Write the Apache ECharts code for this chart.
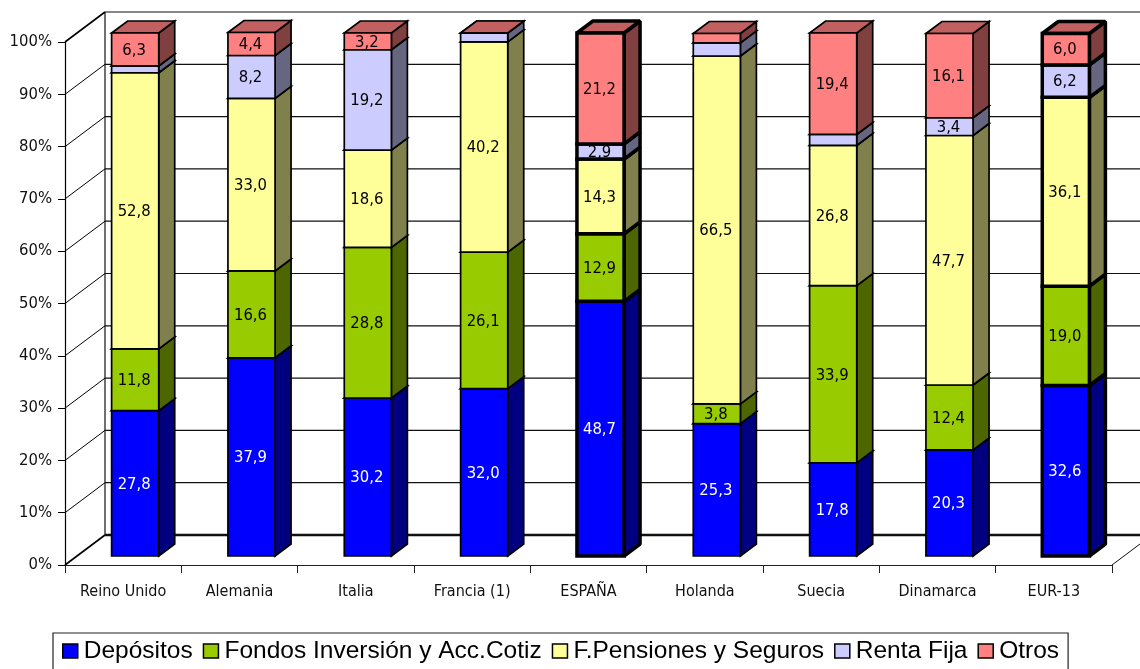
<!DOCTYPE html>
<html>
<head>
<meta charset="utf-8">
<title>Reparto del ahorro</title>
<script src="https://cdn.jsdelivr.net/npm/echarts@6/dist/echarts.min.js"></script>
<style>
html, body { margin: 0; padding: 0; background: #fff; overflow: hidden; }
#chart { width: 1140px; height: 669px; }
</style>
</head>
<body>
<div id="chart"></div>
<script>
var categories = ["Reino Unido", "Alemania", "Italia", "Francia (1)", "ESPAÑA", "Holanda", "Suecia", "Dinamarca", "EUR-13"];
var depositos = [27.8, 37.9, 30.2, 32.0, 48.7, 25.3, 17.8, 20.3, 32.6];
var fondos = [11.8, 16.6, 28.8, 26.1, 12.9, 3.8, 33.9, 12.4, 19.0];
var pensiones = [52.8, 33.0, 18.6, 40.2, 14.3, 66.5, 26.8, 47.7, 36.1];
var rentaFija = [1.3, 8.2, 19.2, 1.7, 2.9, 2.5, 2.1, 3.4, 6.2];
var otros = [6.3, 4.4, 3.2, 0, 21.2, 1.8, 19.4, 16.1, 6.0];
var seriesNames = ["Depósitos", "Fondos Inversión y Acc.Cotiz", "F.Pensiones y Seguros", "Renta Fija", "Otros"];
var yTicks = [0, 10, 20, 30, 40, 50, 60, 70, 80, 90, 100];
// segments without a printed value: serie index, category index
var noLabel = ["3-0", "3-3", "4-3", "3-5", "4-5", "3-6"];
var highlighted = ["ESPAÑA", "EUR-13"];

var colors = ["#0000ff", "#99cc00", "#ffff99", "#ccccff", "#ff8080"];
var sideColors = ["#000080", "#4d6600", "#80804d", "#666680", "#804040"];
var topColors = ["#0000c0", "#739900", "#c0c073", "#9999c0", "#c06060"];
var labelColors = ["#fff", "#000", "#000", "#000", "#000"];
var labelFont = "'DejaVu Sans Condensed', 'DejaVu Sans', sans-serif";

var WALL_DX = 40, WALL_DY = -30;    // depth of the floor
var BAR_DX = 16, BAR_DY = -12;      // depth of a bar
var BAR_OFF_X = 12, BAR_OFF_Y = -9; // bar front face sits inside the floor

function renderWall(params, api) {
    var cs = params.coordSys;
    var y = api.coord([categories[0], api.value(0)])[1];
    var left = cs.x, right = cs.x + cs.width;
    var isFloor = api.value(0) == 0;
    var isTop = api.value(0) == 100;
    var children = [{
        type: "line",
        shape: { x1: left, y1: y, x2: left + WALL_DX, y2: y + WALL_DY },
        style: { stroke: "#000", lineWidth: isFloor || isTop ? 1.6 : 1 }
    }, {
        type: "line",
        shape: { x1: left + WALL_DX, y1: y + WALL_DY, x2: right + WALL_DX, y2: y + WALL_DY },
        style: { stroke: "#111", lineWidth: isFloor ? 2.5 : 1.2 }
    }];
    if (isFloor) {
        children.push({
            type: "line",
            shape: { x1: left + WALL_DX, y1: y + WALL_DY, x2: left + WALL_DX, y2: cs.y + WALL_DY },
            style: { stroke: "#111", lineWidth: 1.2 }
        });
        children.push({
            type: "line",
            shape: { x1: right, y1: y, x2: right + WALL_DX, y2: y + WALL_DY },
            style: { stroke: "#111", lineWidth: 1 }
        });
    }
    return { type: "group", children: children };
}

function makeRenderBar(s) {
    return function (params, api) {
        var start = api.coord([api.value(0), api.value(1)]);
        var end = api.coord([api.value(0), api.value(2)]);
        var w = api.size([1, 0])[0] * 0.405;
        var x0 = start[0] + BAR_OFF_X - w / 2;
        var x1 = x0 + w;
        var y0 = start[1] + BAR_OFF_Y;
        var y1 = end[1] + BAR_OFF_Y;
        var thick = highlighted.indexOf(categories[params.dataIndex]) >= 0;
        var lw = thick ? 3.5 : 1.7;
        var join = thick ? "bevel" : "miter";
        var children = [{
            type: "polygon",
            shape: { points: [[x1, y0], [x1 + BAR_DX, y0 + BAR_DY], [x1 + BAR_DX, y1 + BAR_DY], [x1, y1]] },
            style: { fill: sideColors[s], stroke: "#000", lineWidth: lw, lineJoin: join }
        }, {
            type: "polygon",
            shape: { points: [[x0, y1], [x1, y1], [x1 + BAR_DX, y1 + BAR_DY], [x0 + BAR_DX, y1 + BAR_DY]] },
            style: { fill: topColors[s], stroke: "#000", lineWidth: lw, lineJoin: join }
        }, {
            type: "polygon",
            shape: { points: [[x0, y0], [x1, y0], [x1, y1], [x0, y1]] },
            style: { fill: colors[s], stroke: "#000", lineWidth: lw, lineJoin: "miter" }
        }];
        if (noLabel.indexOf(s + "-" + params.dataIndex) < 0 && api.value(3) > 0) {
            children.push({
                type: "text",
                style: {
                    text: api.value(3).toFixed(1).replace(".", ","),
                    x: (x0 + x1) / 2 - 1,
                    y: (y0 + y1) / 2 + 1,
                    align: "center",
                    verticalAlign: "middle",
                    fontFamily: labelFont,
                    fontSize: 16.5,
                    fill: labelColors[s]
                }
            });
        }
        return { type: "group", children: children };
    };
}

var valueLists = [depositos, fondos, pensiones, rentaFija, otros];
var stackBase = [];
for (var c = 0; c < categories.length; ++c) stackBase.push(0);

var series = [{
    name: "pared",
    type: "custom",
    silent: true,
    animation: false,
    renderItem: renderWall,
    data: yTicks.map(function (t) { return [t]; }),
    encode: { y: 0 }
}];
for (var s = 0; s < valueLists.length; ++s) {
    var rows = [];
    for (var i = 0; i < categories.length; ++i) {
        rows.push([categories[i], stackBase[i], stackBase[i] + valueLists[s][i], valueLists[s][i]]);
        stackBase[i] += valueLists[s][i];
    }
    series.push({
        name: seriesNames[s],
        type: "custom",
        silent: true,
        animation: false,
        itemStyle: { color: colors[s] },
        renderItem: makeRenderBar(s),
        data: rows,
        encode: { x: 0, y: [1, 2] }
    });
}

// extra room after each legend text, the boxes in the reference are not evenly spaced
var legendRoom = [2, 11.5, 9, 2, 2];
var chart = echarts.init(document.getElementById("chart"), null, { renderer: "canvas" });
chart.setOption({
    animation: false,
    backgroundColor: "#fff",
    grid: { left: 65, right: 28, top: 42, bottom: 104 },
    xAxis: {
        type: "category",
        data: categories,
        axisLine: { lineStyle: { color: "#222", width: 1.2 } },
        axisTick: { show: true, length: 8, lineStyle: { color: "#222", width: 1 } },
        axisLabel: { color: "#111", fontFamily: labelFont, fontSize: 16, margin: 19, interval: 0 }
    },
    yAxis: {
        type: "value",
        min: 0,
        max: 100,
        interval: 10,
        splitLine: { show: false },
        axisLine: { show: true, lineStyle: { color: "#000", width: 1.2 } },
        axisTick: { show: true, length: 7, lineStyle: { color: "#000", width: 1 } },
        axisLabel: { color: "#111", fontFamily: labelFont, fontSize: 16.5, margin: 13, padding: [4, 0, 0, 0], formatter: "{value}%" }
    },
    legend: {
        data: seriesNames.map(function (n, k) {
            return { name: n, textStyle: { padding: [0, legendRoom[k], 6, 1] } };
        }),
        left: 53,
        top: 633,
        orient: "horizontal",
        selectedMode: false,
        backgroundColor: "#fff",
        borderColor: "#222",
        borderWidth: 1.2,
        borderRadius: 0,
        padding: [5.5, 9, 10, 9],
        itemWidth: 15,
        itemHeight: 14,
        itemGap: 10,
        icon: "rect",
        itemStyle: { borderColor: "#000", borderWidth: 1.5 },
        textStyle: { fontFamily: "'Liberation Sans', Arial, sans-serif", fontSize: 24.5, color: "#000" }
    },
    series: series
});
</script>
</body>
</html>
